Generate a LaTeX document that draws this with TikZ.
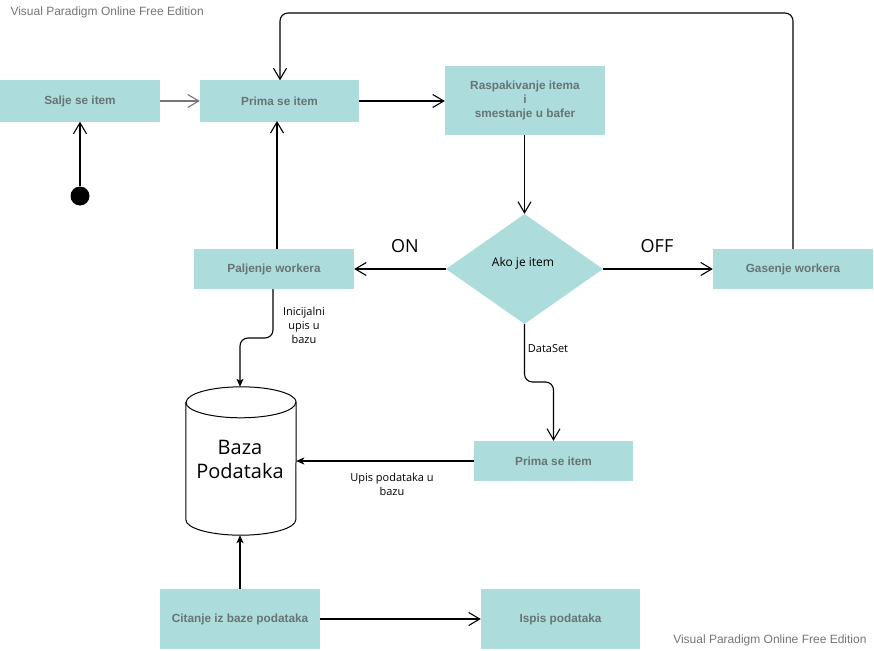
\documentclass[tikz,border=0pt]{standalone}
\usepackage{fontspec}
\setmainfont{Liberation Sans}
\newfontfamily\labfont{Open Sans}
\usetikzlibrary{arrows.meta,shapes.geometric}
\definecolor{boxfill}{RGB}{173,220,220}
\definecolor{boxtext}{RGB}{104,116,116}
\definecolor{wm}{RGB}{118,118,118}
\tikzset{
  actbox/.style={fill=boxfill, draw=none, minimum width=160pt, minimum height=41pt, inner sep=0pt,
    font=\fontsize{11.8}{14}\selectfont\bfseries, text=boxtext, align=center},
  decbox/.style={fill=boxfill, draw=none, shape=diamond, minimum width=157pt, minimum height=110pt, inner sep=0pt},
  conn/.style={line width=1.1pt, draw=black},
  openarr/.style={conn, -{Straight Barb[length=11pt,width=13pt,line width=1.1pt]}},
  fillarr/.style={conn, -{Stealth[length=8pt,width=7pt,inset=2pt]}},
  lbl/.style={font=\labfont\fontsize{11}{14}\selectfont, align=center, text=black},
  biglbl/.style={font=\labfont\fontsize{18}{20}\selectfont, text=black},
  wmark/.style={font=\fontsize{12}{14}\selectfont, text=wm}
}
\begin{document}
\begin{tikzpicture}[x=1pt,y=-1pt]
\useasboundingbox[fill=white] (0,0) rectangle (874,650);

% watermarks
\node[wmark, anchor=west] (wm1) at (7,12) {Visual Paradigm Online Free Edition};
\node[wmark, anchor=east] (wm2) at (870,640) {Visual Paradigm Online Free Edition};

% nodes
\node[actbox] (salje) at (80,101) {Salje se item};
\node[actbox, minimum width=159pt] (prima) at (279.5,101) {Prima se item};
\node[actbox, minimum height=69pt] (rasp) at (525,100.5) {Raspakivanje itema\\i\\smestanje u bafer};
\node[decbox] (ako) at (524.5,269) {};
\node[font=\labfont\fontsize{12}{14}\selectfont] (akotxt) at (523,263) {Ako je item};
\node[actbox, minimum height=40pt] (palj) at (274,269) {Paljenje workera};
\node[actbox, minimum height=40pt] (gas) at (793,269) {Gasenje workera};
\node[actbox, minimum width=159pt, minimum height=40pt] (prima2) at (553.5,461) {Prima se item};
\node[actbox, minimum height=60pt] (cit) at (240,619) {Citanje iz baze podataka};
\node[actbox, minimum width=159pt, minimum height=60pt] (ispis) at (560.5,619) {Ispis podataka};
\node[fill=black, circle, minimum size=19pt, inner sep=0pt] (init) at (80,196) {};

% database cylinder
\node[draw=none, minimum width=110pt, minimum height=148pt, inner sep=0pt] (db) at (241,461) {};
\draw[line width=1pt, fill=white]
  ([yshift=-15.5pt]db.north west) -- ([yshift=15.5pt]db.south west)
  arc[start angle=180, end angle=360, x radius=55pt, y radius=15.5pt]
  -- ([yshift=-15.5pt]db.north east)
  arc[start angle=0, end angle=180, x radius=55pt, y radius=15.5pt] -- cycle;
\draw[line width=1pt] ([yshift=-15.5pt]db.north west)
  arc[start angle=180, end angle=360, x radius=55pt, y radius=15.5pt];
\node[font=\labfont\fontsize{20}{24}\selectfont, align=center] (dbtxt) at (240,459) {Baza\\Podataka};

% connectors
\draw[openarr] (init) -- (salje);
\draw[openarr, draw=wm] (salje) -- (prima);
\draw[openarr] (prima.east) -- (rasp.west |- prima.east);
\draw[openarr] (rasp.south -| ako.north) -- (ako.north);
\draw[openarr] (ako.west) -- (palj.east);
\draw[openarr] (ako.east) -- (gas.west);
\coordinate (loopR) at (793,13);
\coordinate (loopL) at (280,13);
\draw[openarr, rounded corners=8pt] (gas.north) -- (loopR) -- (loopL) -- (loopL |- prima.north);
\draw[openarr] (277,249) -- (277,121);
\coordinate (c1) at (273,338);
\coordinate (c2) at (240,338);
\draw[fillarr, rounded corners=8pt] (273,289) -- (c1) -- (c2) -- (db.north -| c2);
\coordinate (d1) at (524.5,382);
\coordinate (d2) at (553.5,382);
\draw[openarr, rounded corners=8pt] (ako.south) -- (d1) -- (d2) -- (prima2.north);
\draw[fillarr] (prima2.west) -- (prima2.west -| db.east);
\draw[fillarr] (cit.north) -- (db.south -| cit.north);
\draw[openarr] (cit.east) -- (ispis.west);

% labels
\node[biglbl] (on) at (405,246) {ON};
\node[biglbl] (off) at (657,246) {OFF};
\node[lbl] (ini) at (304,325) {Inicijalni\\upis u\\bazu};
\node[lbl] (ds) at (548,349) {DataSet};
\node[lbl] (upis) at (392,484) {Upis podataka u\\bazu};
\end{tikzpicture}
\end{document}
